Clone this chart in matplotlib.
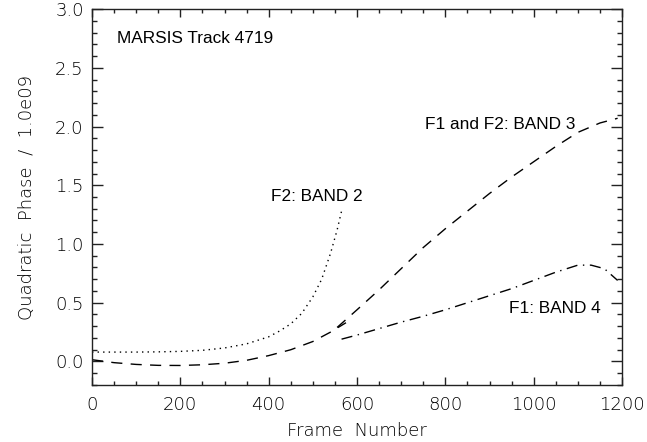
import matplotlib
matplotlib.use("Agg")
import matplotlib.pyplot as plt
from matplotlib.ticker import MultipleLocator

# Band 2 (F2), dotted
frames_b2 = [0, 50, 100, 150, 200, 250, 300, 350, 400, 425, 450, 475, 500, 520, 540, 555, 565]
phase_b2 = [0.08, 0.08, 0.08, 0.082, 0.086, 0.095, 0.115, 0.15, 0.21, 0.26, 0.32, 0.41, 0.55, 0.70, 0.92, 1.12, 1.28]

# Band 3 (F1 and F2), dashed - low part and main part
frames_b3a = [0, 50, 100, 150, 200, 250, 300, 350, 400, 450, 500, 540, 575]
phase_b3a = [0.015, -0.01, -0.025, -0.033, -0.034, -0.028, -0.015, 0.01, 0.05, 0.10, 0.17, 0.25, 0.33]
frames_b3b = [555, 600, 650, 700, 750, 800, 850, 900, 950, 1000, 1050, 1100, 1150, 1190]
phase_b3b = [0.29, 0.44, 0.61, 0.79, 0.97, 1.13, 1.28, 1.43, 1.57, 1.70, 1.83, 1.95, 2.03, 2.07]

# Band 4 (F1), dash-dot
frames_b4 = [565, 600, 650, 700, 750, 800, 850, 900, 950, 1000, 1050, 1100, 1130, 1160, 1190]
phase_b4 = [0.19, 0.225, 0.28, 0.335, 0.385, 0.44, 0.50, 0.56, 0.62, 0.69, 0.76, 0.82, 0.82, 0.79, 0.69]

fig = plt.figure(figsize=(6.47, 4.42), dpi=100)
ax = fig.add_axes([0.1422, 0.1290, 0.8192, 0.8506])

lw = 1.0
ax.plot(frames_b2, phase_b2, color="black", lw=lw, linestyle=(0, (1, 3)))
ax.plot(frames_b3a, phase_b3a, color="black", lw=lw, linestyle=(0, (8, 6)))
ax.plot(frames_b3b, phase_b3b, color="black", lw=lw, linestyle=(0, (8, 6)))
ax.plot(frames_b4, phase_b4, color="black", lw=lw, linestyle=(0, (8, 4, 1, 4)))

ax.set_xlim(0, 1200)
ax.set_ylim(-0.2, 3.0)
ax.xaxis.set_major_locator(MultipleLocator(200))
ax.xaxis.set_minor_locator(MultipleLocator(50))
ax.yaxis.set_major_locator(MultipleLocator(0.5))
ax.yaxis.set_minor_locator(MultipleLocator(0.1))
ax.yaxis.set_major_formatter(plt.FormatStrFormatter("%.1f"))

ax.tick_params(which="both", direction="in", top=True, right=True, width=1, color="#222222")
ax.tick_params(axis="x", which="major", length=6, pad=8)
ax.tick_params(axis="x", which="minor", length=3)
ax.tick_params(axis="y", which="major", length=7.6, pad=6)
ax.tick_params(axis="y", which="minor", length=3.5)

tick_font = dict(family="DejaVu Sans", weight="light", size=13)
for lab in ax.get_xticklabels() + ax.get_yticklabels():
    lab.set_fontfamily("DejaVu Sans")
    lab.set_fontweight("light")
    lab.set_fontsize(13)
    lab.set_color("black")

for spine in ax.spines.values():
    spine.set_linewidth(1.0)
    spine.set_color("#222222")

ax.set_xlabel("Frame  Number", fontdict=tick_font, color="black", labelpad=6)
ax.set_ylabel("Quadratic  Phase  /  1.0e09", fontdict=tick_font, color="black", labelpad=14)

lab_font = dict(family="Liberation Sans", size=12.4, color="black")
ax.text(57, 2.75, "MARSIS Track 4719", va="center", ha="left", **lab_font)
ax.text(405, 1.40, "F2: BAND 2", va="center", ha="left", **lab_font)
ax.text(754, 2.02, "F1 and F2: BAND 3", va="center", ha="left", **lab_font)
ax.text(945, 0.45, "F1: BAND 4", va="center", ha="left", **lab_font)

fig.savefig("out.png", dpi=100)
plt.close(fig)
